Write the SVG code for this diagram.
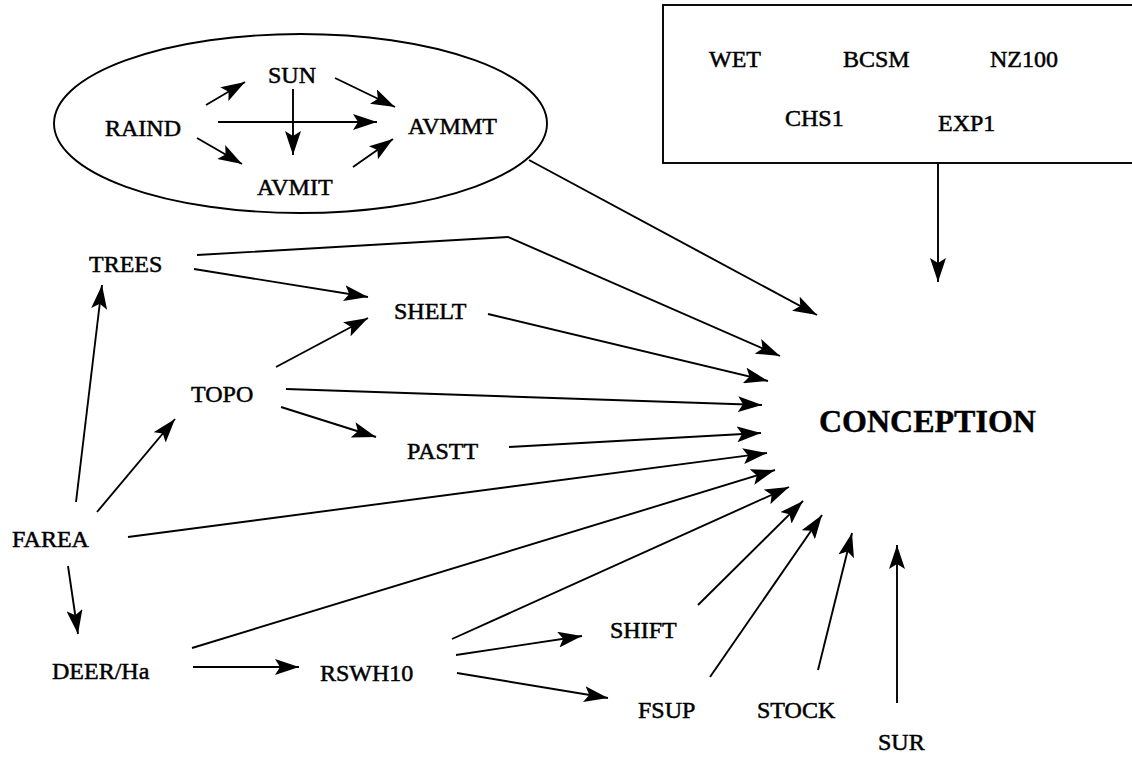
<svg xmlns="http://www.w3.org/2000/svg" width="1132" height="757" viewBox="0 0 1132 757">
  <style>
    .lbl { font-family: "Liberation Serif", "Times New Roman", serif; font-size: 24px; fill: #000; stroke: #000; stroke-width: 0.5; }
    .main { font-family: "Liberation Serif", "Times New Roman", serif; font-size: 32px; font-weight: bold; fill: #000; stroke: #000; stroke-width: 0.4; }
    .edge { fill: none; stroke: #000; stroke-width: 1.9; marker-end: url(#head); }
    .frame { fill: none; stroke: #000; stroke-width: 1.9; }
  </style>
  <defs>
    <marker id="head" markerUnits="userSpaceOnUse" viewBox="0 0 24 16" refX="24" refY="8" markerWidth="24" markerHeight="16" orient="auto">
      <path d="M0,0 L24,8 L0,16 L5,8 z" fill="#000"/>
    </marker>
  </defs>
  <rect width="1132" height="757" fill="#fff"/>

  <!-- climate cluster -->
  <g id="climate">
    <ellipse cx="300.5" cy="123.5" rx="246.5" ry="89.5" class="frame"/>
    <g id="raind"><text class="lbl" x="105" y="136">RAIND</text></g>
    <g id="sun"><text class="lbl" x="268" y="83">SUN</text></g>
    <g id="avmmt"><text class="lbl" x="408" y="134">AVMMT</text></g>
    <g id="avmit"><text class="lbl" x="257" y="195">AVMIT</text></g>
  </g>

  <!-- farm-level factors box -->
  <g id="farmbox">
    <rect x="663" y="5" width="480" height="158" class="frame"/>
    <text class="lbl" x="709" y="67">WET</text>
    <text class="lbl" x="843" y="67">BCSM</text>
    <text class="lbl" x="990" y="67">NZ100</text>
    <text class="lbl" x="785" y="126">CHS1</text>
    <text class="lbl" x="938" y="131">EXP1</text>
  </g>

  <g id="trees"><text class="lbl" x="89" y="272">TREES</text></g>
  <g id="shelt"><text class="lbl" x="394" y="319">SHELT</text></g>
  <g id="topo"><text class="lbl" x="191" y="402">TOPO</text></g>
  <g id="pastt"><text class="lbl" x="407" y="459">PASTT</text></g>
  <g id="farea"><text class="lbl" x="12" y="547">FAREA</text></g>
  <g id="deer"><text class="lbl" x="52" y="679">DEER/Ha</text></g>
  <g id="rswh10"><text class="lbl" x="320" y="681">RSWH10</text></g>
  <g id="shift"><text class="lbl" x="610" y="638">SHIFT</text></g>
  <g id="fsup"><text class="lbl" x="638" y="718">FSUP</text></g>
  <g id="stock"><text class="lbl" x="757" y="718">STOCK</text></g>
  <g id="sur"><text class="lbl" x="878" y="750">SUR</text></g>
  <g id="conception"><text class="main" x="819" y="432">CONCEPTION</text></g>

  <g id="connectors">
    <!-- inside the climate cluster -->
    <line class="edge" x1="206" y1="105" x2="245" y2="82"/>
    <line class="edge" x1="335" y1="78" x2="395" y2="107"/>
    <line class="edge" x1="218" y1="122" x2="377" y2="122"/>
    <line class="edge" x1="293" y1="89" x2="293" y2="155"/>
    <line class="edge" x1="197" y1="138" x2="242" y2="164"/>
    <line class="edge" x1="353" y1="167" x2="393" y2="139"/>

    <!-- into CONCEPTION -->
    <line class="edge" x1="529" y1="160" x2="817" y2="315"/>
    <line class="edge" x1="938" y1="163" x2="938" y2="282"/>
    <polyline class="edge" points="197,255 508,237 780,356"/>
    <line class="edge" x1="488" y1="314" x2="768" y2="381"/>
    <line class="edge" x1="286" y1="389" x2="762" y2="405"/>
    <line class="edge" x1="509" y1="447" x2="761" y2="433"/>
    <line class="edge" x1="128" y1="537" x2="767" y2="453"/>
    <line class="edge" x1="192" y1="648" x2="775" y2="470"/>
    <line class="edge" x1="452" y1="639" x2="789" y2="487"/>
    <line class="edge" x1="698" y1="605" x2="803" y2="501"/>
    <line class="edge" x1="710" y1="677" x2="822" y2="515"/>
    <line class="edge" x1="818" y1="670" x2="852" y2="533"/>
    <line class="edge" x1="897" y1="703" x2="897" y2="545"/>

    <!-- among the farm variables -->
    <line class="edge" x1="76" y1="502" x2="102" y2="285"/>
    <line class="edge" x1="97" y1="512" x2="175" y2="419"/>
    <line class="edge" x1="68" y1="566" x2="78" y2="634"/>
    <line class="edge" x1="194" y1="269" x2="368" y2="297"/>
    <line class="edge" x1="276" y1="367" x2="368" y2="318"/>
    <line class="edge" x1="281" y1="407" x2="376" y2="437"/>
    <line class="edge" x1="193" y1="667" x2="299" y2="667"/>
    <line class="edge" x1="456" y1="655" x2="582" y2="636"/>
    <line class="edge" x1="457" y1="673" x2="608" y2="698"/>
  </g>
</svg>
